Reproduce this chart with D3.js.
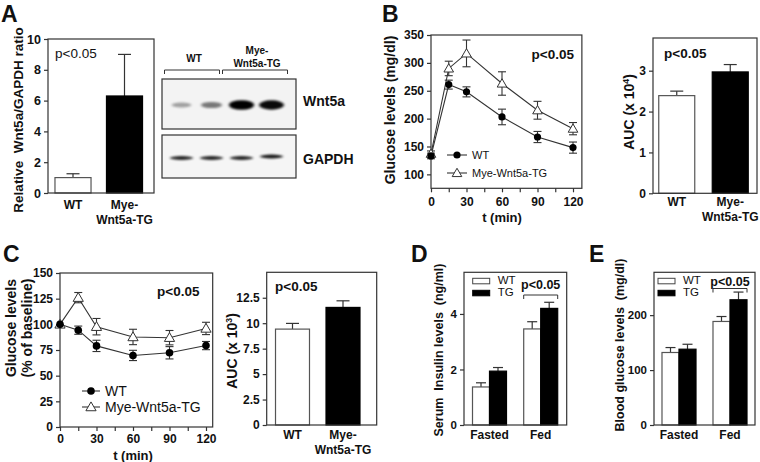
<!DOCTYPE html>
<html><head><meta charset="utf-8">
<script src="https://cdn.jsdelivr.net/npm/d3@7"></script>
<style>
body{margin:0;background:#fff}
svg{display:block}
text{font-family:"Liberation Sans",Arial,Helvetica,sans-serif;fill:#111}
</style>
</head><body>
<svg id="chart" width="760" height="462"></svg>
<script>
// ---------------- DATA ----------------
const aCats = ["WT", "Mye-Wnt5a-TG"];
const aVals = [1.0, 6.3];
const aErrs = [0.25, 2.7];
const aTicks = [0, 2, 4, 6, 8, 10];

const blotLanes = ["WT-1", "WT-2", "TG-1", "TG-2"];
const wnt5aIntensity = [0.22, 0.42, 1.0, 0.95];
const gapdhIntensity = [0.85, 0.85, 0.85, 0.9];

const times = [0, 15, 30, 60, 90, 120];
const timeTicks = [0, 15, 30, 45, 60, 75, 90, 105, 120];
const timeLabels = [0, 30, 60, 90, 120];

const bWT = [133, 261, 248, 203, 167, 148];
const bWTerr = [5, 8, 9, 14, 10, 10];
const bTG = [137, 290, 317, 263, 215, 182];
const bTGerr = [5, 13, 24, 21, 16, 11];
const bTicks = [100, 150, 200, 250, 300, 350];

const bAuc = [2.39, 2.97];
const bAucErr = [0.11, 0.18];
const bAucTicks = [0, 1, 2, 3];

const cWT = [100, 94.3, 79, 69.7, 72.3, 79.3];
const cWTerr = [0, 4, 5.5, 5, 6, 4];
const cTG = [100, 126, 97.7, 87.7, 87, 96];
const cTGerr = [0, 5, 8, 7.5, 7, 6];
const cTicks = [0, 25, 50, 75, 100, 125, 150];

const cAuc = [9.42, 11.55];
const cAucErr = [0.56, 0.65];
const cAucTicks = [0, 2.5, 5, 7.5, 10, 12.5];

const groups = ["Fasted", "Fed"];
const seriesNames = ["WT", "TG"];
const dWT = [1.37, 3.46], dWTerr = [0.15, 0.26];
const dTG = [1.94, 4.2], dTGerr = [0.13, 0.22];
const dTicks = [0, 2, 4];
const eWT = [132, 188.5], eWTerr = [9, 9];
const eTG = [138, 228], eTGerr = [9, 14];
const eTicks = [0, 100, 200];

// ---------------- DRAWING ----------------
const svg = d3.select("#chart");
const INK = "#333";

function letter(t, x, y) {
  svg.append("text").attr("x", x).attr("y", y).attr("font-size", 23)
    .attr("font-weight", "bold").attr("fill", "#000").text(t);
}
function txt(t, x, y, o = {}) {
  return svg.append("text").attr("x", x).attr("y", y)
    .attr("font-size", o.size || 12).attr("font-weight", o.weight || "bold")
    .attr("text-anchor", o.anchor || "start").text(t);
}
function yTitle(lines, cx, cy, size, sup) {
  const t = svg.append("text").attr("transform", `translate(${cx},${cy}) rotate(-90)`)
    .attr("text-anchor", "middle").attr("font-size", size).attr("font-weight", "bold");
  t.append("tspan").attr("x", 0).attr("dy", "0.35em").text(lines);
  if (sup) {
    t.append("tspan").attr("font-size", size * 0.62).attr("dy", "-0.6em").text(sup);
    t.append("tspan").attr("dy", "0.38em").text(")");
  }
  return t;
}
function frame(x0, y0, x1, y1) {
  svg.append("rect").attr("x", x0).attr("y", y0).attr("width", x1 - x0).attr("height", y1 - y0)
    .attr("fill", "none").attr("stroke", INK).attr("stroke-width", 1.2);
}
function yAxis(y, x0, ticks, fmt, size) {
  const g = svg.append("g").attr("transform", `translate(${x0},0)`)
    .call(d3.axisLeft(y).tickValues(ticks).tickSize(4).tickPadding(3).tickFormat(fmt || d3.format("")));
  g.select(".domain").remove();
  g.selectAll(".tick line").attr("stroke", INK).attr("stroke-width", 1.2);
  g.selectAll(".tick text").attr("font-size", size || 12).attr("font-weight", "bold")
    .attr("font-family", '"Liberation Sans",Arial,sans-serif').attr("fill", "#111");
  return g;
}
function errUp(x, yv, ye, cap) {
  svg.append("line").attr("x1", x).attr("x2", x).attr("y1", yv).attr("y2", ye).attr("stroke", INK).attr("stroke-width", 1.2);
  svg.append("line").attr("x1", x - cap / 2).attr("x2", x + cap / 2).attr("y1", ye).attr("y2", ye).attr("stroke", INK).attr("stroke-width", 1.2);
}

// ---- simple two-bar panel ----
function twoBar(o) {
  const y = d3.scaleLinear().domain(o.yDomain).range([o.bottom, o.top]);
  const x = d3.scaleBand().domain(o.cats).range(o.xRange).paddingInner(o.pad).paddingOuter(o.pad / 2);
  o.cats.forEach((c, i) => {
    const cx = x(c) + x.bandwidth() / 2;
    errUp(cx, y(o.vals[i]), y(o.vals[i] + o.errs[i]), 13);
  });
  svg.append("g").selectAll("rect").data(o.cats).join("rect")
    .attr("x", d => x(d)).attr("width", x.bandwidth())
    .attr("y", (d, i) => y(o.vals[i])).attr("height", (d, i) => y(0) - y(o.vals[i]))
    .attr("fill", (d, i) => i === 0 ? "#fff" : "#000")
    .attr("stroke", (d, i) => i === 0 ? "#555" : "#000").attr("stroke-width", 1.2);
  frame(o.frameX[0], o.top, o.frameX[1], o.bottom);
  yAxis(y, o.frameX[0], o.ticks, o.fmt, o.tickSize);
  o.cats.forEach(c => {
    const cx = x(c) + x.bandwidth() / 2;
    if (c === "WT") txt("WT", cx, o.bottom + o.lab1, { anchor: "middle" });
    else {
      txt("Mye-", cx, o.bottom + o.lab1, { anchor: "middle" });
      txt("Wnt5a-TG", cx, o.bottom + o.lab1 + 14.5, { anchor: "middle" });
    }
  });
  return { x, y };
}

// ---- grouped bar panel ----
function groupBar(o) {
  const y = d3.scaleLinear().domain(o.yDomain).range([o.bottom, o.top]);
  const x0 = d3.scaleBand().domain(groups).range(o.xRange).paddingInner(o.pad).paddingOuter(o.pad / 2);
  const x1 = d3.scaleBand().domain(seriesNames).range([0, x0.bandwidth()]);
  const vals = [o.wt, o.tg], errs = [o.wtErr, o.tgErr];
  groups.forEach((gname, gi) => {
    seriesNames.forEach((s, si) => {
      const cx = x0(gname) + x1(s) + x1.bandwidth() / 2;
      errUp(cx, y(vals[si][gi]), y(vals[si][gi] + errs[si][gi]), 10);
    });
  });
  groups.forEach((gname, gi) => {
    seriesNames.forEach((s, si) => {
      svg.append("rect").attr("x", x0(gname) + x1(s)).attr("width", x1.bandwidth())
        .attr("y", y(vals[si][gi])).attr("height", y(0) - y(vals[si][gi]))
        .attr("fill", si === 0 ? "#fff" : "#000").attr("stroke", si === 0 ? "#555" : "#000").attr("stroke-width", 1.2);
    });
    txt(gname, x0(gname) + x0.bandwidth() / 2, o.bottom + 14, { anchor: "middle" });
  });
  frame(o.frameX[0], o.top, o.frameX[1], o.bottom);
  yAxis(y, o.frameX[0], o.ticks, null, 11.5);
  seriesNames.forEach((s, si) => {
    const ly = o.top + 6 + si * 12;
    svg.append("rect").attr("x", o.frameX[0] + o.legDx).attr("y", ly).attr("width", 17).attr("height", 5.5)
      .attr("fill", si === 0 ? "#fff" : "#000").attr("stroke", si === 0 ? "#444" : "#000").attr("stroke-width", 1);
    txt(s, o.frameX[0] + o.legDx + 25, ly + 5.5, { weight: "normal", size: 11.5 });
  });
  const bx0 = x0("Fed"), bx1 = x0("Fed") + x0.bandwidth();
  const by = o.bracketY;
  svg.append("path").attr("d", `M${bx0},${by + 4}V${by}H${bx1}V${by + 4}`)
    .attr("fill", "none").attr("stroke", INK).attr("stroke-width", 1);
  txt("p<0.05", (bx0 + bx1) / 2, o.pY, { anchor: "middle", size: 12.5 });
  return { x0, y };
}

// ---- line panel ----
function linePanel(o) {
  const x = d3.scaleLinear().domain([0, 120]).range(o.xRange);
  const y = d3.scaleLinear().domain(o.yDomain).range([o.bottom, o.top]);
  const frameRight = x(o.xMax);
  frame(x(0), o.top, frameRight, o.bottom);
  yAxis(y, x(0), o.ticks);
  const gx = svg.append("g").attr("transform", `translate(0,${o.bottom})`)
    .call(d3.axisBottom(x).tickValues(timeTicks).tickSize(4).tickPadding(o.xPad)
      .tickFormat(d => timeLabels.includes(d) ? d : ""));
  gx.select(".domain").remove();
  gx.selectAll(".tick line").attr("stroke", INK).attr("stroke-width", 1.2);
  gx.selectAll(".tick text").attr("font-size", 12).attr("font-weight", "bold")
    .attr("font-family", '"Liberation Sans",Arial,sans-serif').attr("fill", "#111");
  txt("t (min)", (x(0) + x(120)) / 2, o.tY, { anchor: "middle", size: 13 });

  const line = d3.line().x((d, i) => x(times[i])).y(d => y(d));
  const sets = [{ v: o.wt, e: o.wtErr, kind: "circle" }, { v: o.tg, e: o.tgErr, kind: "tri" }];
  sets.forEach(s => {
    svg.append("path").datum(s.v).attr("d", line).attr("fill", "none").attr("stroke", INK).attr("stroke-width", 1.1);
  });
  sets.forEach(s => {
    s.v.forEach((v, i) => {
      if (s.e[i] > 0) {
        const cx = x(times[i]);
        svg.append("line").attr("x1", cx).attr("x2", cx).attr("y1", y(v - s.e[i])).attr("y2", y(v + s.e[i])).attr("stroke", INK).attr("stroke-width", 1.1);
        [v - s.e[i], v + s.e[i]].forEach(w => svg.append("line").attr("x1", cx - 4).attr("x2", cx + 4)
          .attr("y1", y(w)).attr("y2", y(w)).attr("stroke", INK).attr("stroke-width", 1.1));
      }
    });
  });
  const tri = d3.symbol().type(d3.symbolTriangle).size(o.triSize);
  sets.slice().reverse().forEach(s => {
    s.v.forEach((v, i) => {
      if (s.kind === "circle")
        svg.append("circle").attr("cx", x(times[i])).attr("cy", y(v)).attr("r", o.r).attr("fill", "#000");
      else
        svg.append("path").attr("d", tri).attr("transform", `translate(${x(times[i])},${y(v) + 0.8})`)
          .attr("fill", "#fff").attr("stroke", "#333").attr("stroke-width", 1);
    });
  });
  const L = o.legend;
  [["WT", "circle"], ["Mye-Wnt5a-TG", "tri"]].forEach(([name, kind], k) => {
    const ly = L.y + k * L.gap;
    svg.append("line").attr("x1", L.x).attr("x2", L.x + L.w).attr("y1", ly).attr("y2", ly).attr("stroke", INK).attr("stroke-width", 1.1);
    if (kind === "circle")
      svg.append("circle").attr("cx", L.x + L.w / 2).attr("cy", ly).attr("r", o.r).attr("fill", "#000");
    else
      svg.append("path").attr("d", tri).attr("transform", `translate(${L.x + L.w / 2},${ly + 0.8})`)
        .attr("fill", "#fff").attr("stroke", "#333").attr("stroke-width", 1);
    txt(name, L.x + L.w + 5, ly + L.size * 0.36, { weight: "normal", size: L.size });
  });
  return { x, y };
}

// ================= PANEL A =================
letter("A", 1, 22);
twoBar({ cats: aCats, vals: aVals, errs: aErrs, yDomain: [0, 10], top: 39, bottom: 193,
  xRange: [47.25, 150.25], pad: 0.30, frameX: [48, 154], ticks: aTicks, lab1: 16, tickSize: 12.5 });
txt("p<0.05", 55, 57.5, { weight: "normal", size: 13.5 });
yTitle("Relative\u00a0\u00a0Wnt5a/GAPDH ratio", 18.5, 120, 13.5);

// Western blot
const lane = d3.scaleBand().domain(blotLanes).range([166.5, 286.5]);
const defs = svg.append("defs");
defs.append("filter").attr("id", "blur").attr("x", "-50%").attr("y", "-100%").attr("width", "200%").attr("height", "300%")
  .append("feGaussianBlur").attr("stdDeviation", "1.6 1.1");
svg.append("rect").attr("x", 162).attr("y", 79).attr("width", 134).attr("height", 50).attr("fill", "#f3f3f3").attr("stroke", INK).attr("stroke-width", 1.2);
svg.append("rect").attr("x", 162).attr("y", 135).attr("width", 134).attr("height", 43).attr("fill", "#f5f5f5").attr("stroke", INK).attr("stroke-width", 1.2);
blotLanes.forEach((l, i) => {
  const cx = lane(l) + lane.bandwidth() / 2;
  const a = wnt5aIntensity[i];
  svg.append("ellipse").attr("cx", cx).attr("cy", 105).attr("rx", 9 + 3.5 * a).attr("ry", 1.8 + 3 * a)
    .attr("fill", "#000").attr("opacity", 0.15 + 0.85 * a).attr("filter", "url(#blur)");
  const b = gapdhIntensity[i];
  svg.append("ellipse").attr("cx", cx).attr("cy", i === 3 ? 156.5 : 158).attr("rx", 11.5).attr("ry", 1.9)
    .attr("fill", "#000").attr("opacity", b).attr("filter", "url(#blur)");
});
[[blotLanes[0], blotLanes[1]], [blotLanes[2], blotLanes[3]]].forEach(([l0, l1], k) => {
  const x1 = lane(l1) + lane.bandwidth() + (k ? 1 : -7);
  const xs = k ? lane(l0) - 4 : lane(l0) - 2;
  svg.append("path").attr("d", `M${xs},${74}V${70}H${x1}V${74}`).attr("fill", "none").attr("stroke", INK).attr("stroke-width", 1);
});
txt("WT", 194, 61.5, { anchor: "middle", size: 10 });
txt("Mye-", 257, 53.5, { anchor: "middle", size: 10 });
txt("Wnt5a-TG", 257, 67, { anchor: "middle", size: 10 });
txt("Wnt5a", 303, 105.5, { size: 14 });
txt("GAPDH", 303, 164, { size: 14 });

// ================= PANEL B =================
letter("B", 382, 22);
linePanel({ wt: bWT, wtErr: bWTerr, tg: bTG, tgErr: bTGerr, yDomain: [75, 350], top: 35, bottom: 188.3,
  xRange: [431, 573], xMax: 127.5, ticks: bTicks, xPad: 5, tY: 222, r: 3.6, triSize: 40,
  legend: { x: 447, y: 155, gap: 18, w: 20, size: 11 } });
txt("p<0.05", 574, 58.5, { anchor: "end", size: 13.5 });
yTitle("Glucose levels (mg/dl)", 390, 110, 14);

twoBar({ cats: aCats, vals: bAuc, errs: bAucErr, yDomain: [0, 3.8], top: 38, bottom: 193.3,
  xRange: [650, 757], pad: 0.327, frameX: [653, 757], ticks: bAucTicks, lab1: 13 });
txt("p<0.05", 664, 58, { size: 13.5 });
yTitle("AUC (x 10", 629, 112, 14, "4");

// ================= PANEL C =================
letter("C", 3, 262);
linePanel({ wt: cWT, wtErr: cWTerr, tg: cTG, tgErr: cTGerr, yDomain: [0, 150], top: 273, bottom: 427,
  xRange: [60, 206], xMax: 125.5, ticks: cTicks, xPad: 3.5, tY: 460, r: 3.8, triSize: 45,
  legend: { x: 82, y: 391, gap: 16, w: 18, size: 14 } });
txt("p<0.05", 157, 295.5, { size: 13.5 });
yTitle("Glucose levels", 11.5, 328, 14);
yTitle("(% of baseline)", 27.5, 328, 14);

twoBar({ cats: aCats, vals: cAuc, errs: cAucErr, yDomain: [0, 15], top: 272.3, bottom: 425,
  xRange: [267.25, 368.25], pad: 0.327, frameX: [266.7, 376.7], ticks: cAucTicks, lab1: 14 });
txt("p<0.05", 275, 291, { size: 13.5 });
yTitle("AUC (x 10", 232, 351, 14, "3");

// ================= PANEL D =================
letter("D", 411, 262);
groupBar({ wt: dWT, wtErr: dWTerr, tg: dTG, tgErr: dTGerr, yDomain: [0, 5.5], top: 272.3, bottom: 425,
  xRange: [463.9, 566.3], pad: 0.336, frameX: [464, 566.7], ticks: dTicks, legDx: 8.7, bracketY: 295, pY: 288.5 });
yTitle("Serum\u00a0\u00a0Insulin levels\u00a0\u00a0(ng/ml)", 439, 350, 12.5);

// ================= PANEL E =================
letter("E", 589, 262);
groupBar({ wt: eWT, wtErr: eWTerr, tg: eTG, tgErr: eTGerr, yDomain: [0, 278], top: 272.3, bottom: 425,
  xRange: [653.5, 755.5], pad: 0.333, frameX: [654, 755], ticks: eTicks, legDx: 4, bracketY: 288.5, pY: 286 });
yTitle("Blood glucose levels\u00a0\u00a0(mg/dl)", 619.5, 345, 12.5);
</script>
</body></html>
